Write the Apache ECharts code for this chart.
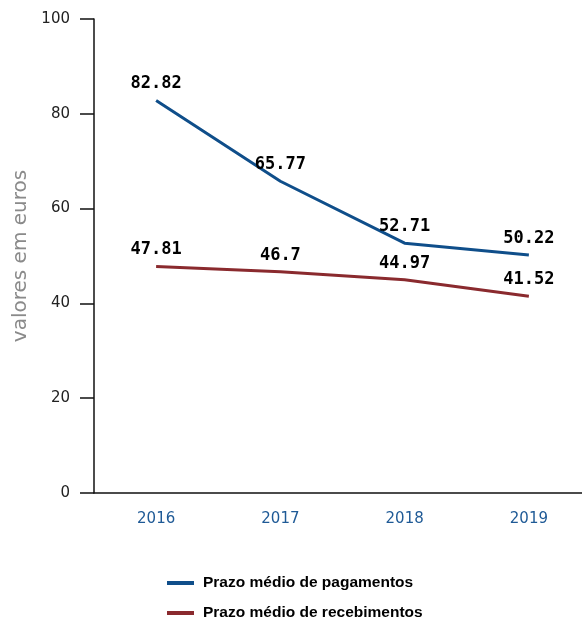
<!DOCTYPE html>
<html>
<head>
<meta charset="utf-8">
<script src="https://cdn.jsdelivr.net/npm/echarts@6/dist/echarts.min.js"></script>
<style>
  html, body { margin: 0; padding: 0; background: #fff; overflow: hidden; }
  #chart { width: 591px; height: 619px; }
</style>
</head>
<body>
<div id="chart"></div>
<script>
// data
var years = ['2016', '2017', '2018', '2019']
var pagamentos = [82.82, 65.77, 52.71, 50.22]
var recebimentos = [47.81, 46.7, 44.97, 41.52]
var seriesNames = ['Prazo médio de pagamentos', 'Prazo médio de recebimentos']

var chart = echarts.init(document.getElementById('chart'))

var labelStyle = {
  show: true,
  position: 'top',
  distance: 8,
  color: '#000',
  fontFamily: 'DejaVu Sans Mono',
  fontWeight: 'bold',
  fontSize: 17
}

var option = {
  animation: false,
  grid: { left: 94, top: 19, right: 0, bottom: 126 },
  legend: {
    orient: 'vertical',
    left: 162,
    top: 570,
    height: 80,
    itemGap: 14,
    itemWidth: 27,
    itemHeight: 4,
    icon: 'rect',
    textStyle: {
      fontFamily: 'Liberation Sans',
      fontWeight: 'bold',
      fontSize: 15.5,
      color: '#000',
      padding: [0, 0, 0, 4]
    },
    data: seriesNames
  },
  xAxis: {
    type: 'category',
    data: years,
    boundaryGap: true,
    axisLine: { lineStyle: { color: '#111', width: 1.5 } },
    axisTick: { show: false },
    axisLabel: {
      color: '#1f5a96',
      fontFamily: 'DejaVu Sans',
      fontSize: 15,
      margin: 19
    }
  },
  yAxis: {
    type: 'value',
    min: 0,
    max: 100,
    interval: 20,
    name: 'valores em euros',
    nameLocation: 'middle',
    nameGap: 63,
    nameTextStyle: {
      color: '#8a8a8a',
      fontFamily: 'DejaVu Sans',
      fontSize: 20
    },
    axisLine: { show: true, lineStyle: { color: '#111', width: 1.5 } },
    axisTick: { show: true, length: 14, lineStyle: { color: '#111', width: 1.5 } },
    splitLine: { show: false },
    axisLabel: {
      color: '#222',
      fontFamily: 'DejaVu Sans',
      fontSize: 15,
      margin: 24
    }
  },
  series: [
    {
      name: seriesNames[0],
      type: 'line',
      data: pagamentos,
      showSymbol: true,
      symbol: 'circle',
      symbolSize: 0.1,
      color: '#0f4e8a',
      lineStyle: { width: 3, color: '#0f4e8a' },
      label: labelStyle
    },
    {
      name: seriesNames[1],
      type: 'line',
      data: recebimentos,
      showSymbol: true,
      symbol: 'circle',
      symbolSize: 0.1,
      color: '#8a2a2e',
      lineStyle: { width: 3, color: '#8a2a2e' },
      label: labelStyle
    }
  ]
}

chart.setOption(option)
</script>
</body>
</html>
